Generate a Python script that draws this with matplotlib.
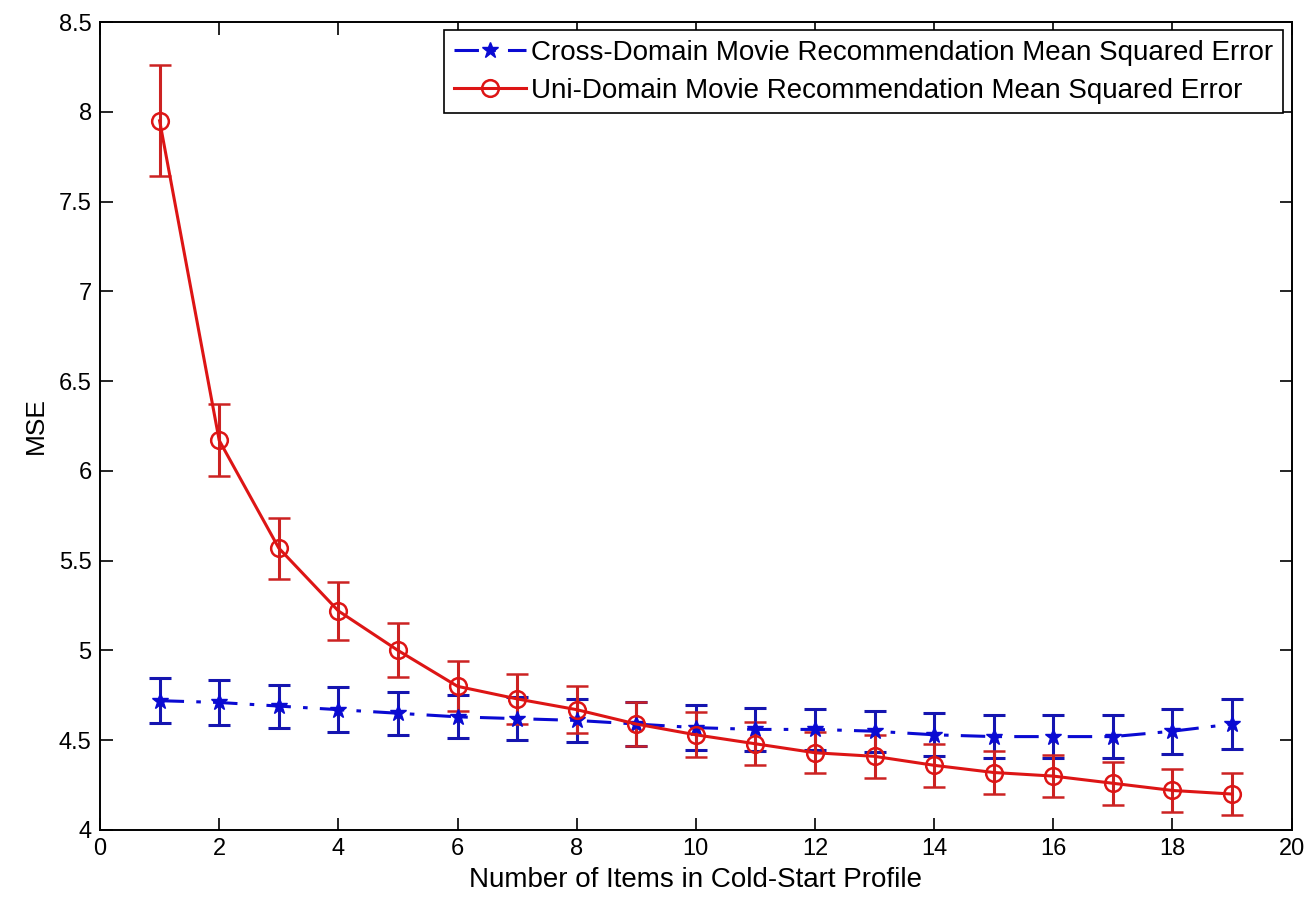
import matplotlib
matplotlib.use("Agg")
import matplotlib.pyplot as plt
import numpy as np

plt.rcParams['font.family'] = ['Liberation Sans', 'DejaVu Sans']

items = list(range(1, 20))
cross_mse = [4.72, 4.71, 4.69, 4.67, 4.65, 4.63, 4.62, 4.61, 4.59, 4.57,
             4.56, 4.56, 4.55, 4.53, 4.52, 4.52, 4.52, 4.55, 4.59]
cross_err = [0.125, 0.125, 0.12, 0.125, 0.12, 0.12, 0.12, 0.12, 0.12, 0.125,
             0.12, 0.115, 0.115, 0.12, 0.12, 0.12, 0.12, 0.125, 0.14]
uni_mse = [7.95, 6.17, 5.57, 5.22, 5.00, 4.80, 4.73, 4.67, 4.59, 4.53,
           4.48, 4.43, 4.41, 4.36, 4.32, 4.30, 4.26, 4.22, 4.20]
uni_err = [0.31, 0.20, 0.17, 0.16, 0.15, 0.14, 0.14, 0.13, 0.125, 0.125,
           0.12, 0.115, 0.12, 0.12, 0.12, 0.115, 0.12, 0.12, 0.115]

cross_label = "Cross-Domain Movie Recommendation Mean Squared Error"
uni_label = "Uni-Domain Movie Recommendation Mean Squared Error"
xticks = list(range(0, 21, 2))
yticks = [4, 4.5, 5, 5.5, 6, 6.5, 7, 7.5, 8, 8.5]
yticklabels = ['4', '4.5', '5', '5.5', '6', '6.5', '7', '7.5', '8', '8.5']

fig = plt.figure(figsize=(13.06, 8.99), dpi=100)
ax = fig.add_axes([0.0766, 0.0768, 0.9124, 0.8987])

blue = '#0a0ad2'
red = '#dd1515'

eb1 = ax.errorbar(items, cross_mse, yerr=cross_err, color=blue, ecolor='#1515b0',
                  linestyle='-.', linewidth=2.2, marker='*', markersize=12,
                  elinewidth=2.2, capsize=8, capthick=2.2, dashes=(8, 4, 1.5, 4),
                  label=cross_label)
eb2 = ax.errorbar(items, uni_mse, yerr=uni_err, color=red, ecolor='#cc2222',
                  linestyle='-', linewidth=2.2, marker='o', markersize=12,
                  markerfacecolor='none', markeredgewidth=1.8,
                  elinewidth=2.2, capsize=8, capthick=2.2,
                  label=uni_label)

ax.set_xlim(0, 20)
ax.set_ylim(4, 8.5)
ax.set_xticks(xticks)
ax.set_yticks(yticks)
ax.set_yticklabels(yticklabels)
ax.tick_params(direction='in', length=9, width=1.2, top=True, right=True,
               labelsize=17, pad=6)
for s in ax.spines.values():
    s.set_linewidth(1.4)

ax.set_xlabel("Number of Items in Cold-Start Profile", fontsize=20, labelpad=5)
ax.set_ylabel("MSE", fontsize=19, labelpad=8)

leg = ax.legend([eb1.lines[0], eb2.lines[0]], [cross_label, uni_label],
                loc='upper right', fontsize=20, frameon=True, fancybox=False,
                edgecolor='black', framealpha=1, borderpad=0.35,
                handlelength=2.6, handletextpad=0.2, labelspacing=0.42,
                borderaxespad=0.3)
leg.get_frame().set_linewidth(1.2)

fig.savefig("out.png", dpi=100)
